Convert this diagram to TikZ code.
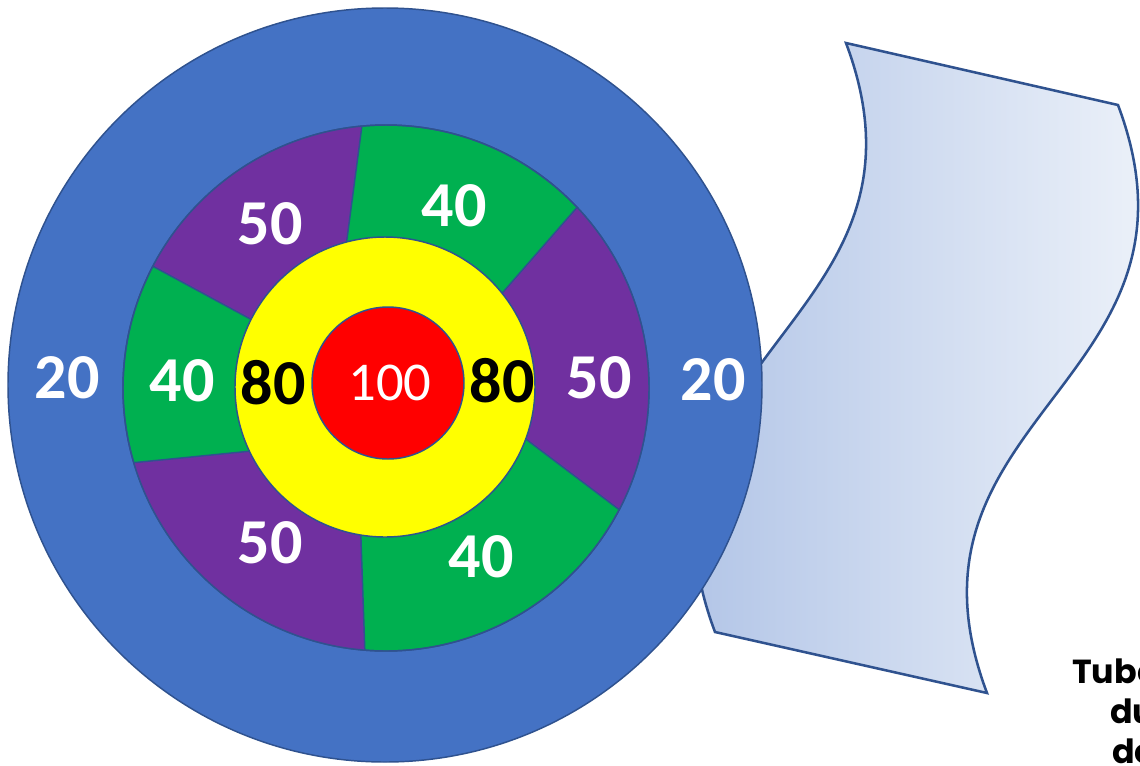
\documentclass[tikz,border=0pt]{standalone}
\usepackage{fontspec}
\setmainfont{Carlito}
\newfontfamily\notefont{Poppins}

\definecolor{ringblue}{HTML}{4472C4}
\definecolor{ringgreen}{HTML}{00B050}
\definecolor{ringpurple}{HTML}{7030A0}
\definecolor{edgeblue}{HTML}{2F528F}
\definecolor{wavedark}{HTML}{A9BEE4}
\definecolor{wavelight}{HTML}{F5F8FC}
\definecolor{goldyellow}{HTML}{FFFF00}

\newcommand*{\ringr}{263}
\newcommand*{\goldr}{150}

\begin{document}
\begin{tikzpicture}
[
	x=0.75pt, y=-0.75pt,
	ring/.style={draw=edgeblue, line width=1.1pt},
	score/.style={white, inner sep=0pt, font=\fontsize{48}{50}\selectfont\bfseries},
	note/.style={black, inner sep=0pt, anchor=base west, font=\notefont\fontsize{25}{27}\selectfont\bfseries}
]
	\useasboundingbox (0,0) rectangle (1140,765);

	% wave
	\shadedraw[left color=wavedark, right color=wavelight, draw=edgeblue, line width=1.9pt, line join=miter]
		(846,43) -- (1118,105) .. controls (1222,382) and (883,416) .. (987,693)
		-- (715,632) .. controls (611,355) and (950,320) .. (846,43) -- cycle;

	% target
	\draw[ring, fill=ringblue] (385,385) circle (377);
	\draw[ring, fill=ringgreen] (386,388) circle (\ringr);
	\begin{scope}
		\clip (386,388) circle (\ringr);
		\draw[ring, fill=ringpurple] (366,95) -- (335,330) -- (302,347) -- (121,249) -- (100,100) -- cycle;
		\draw[ring, fill=ringpurple] (621,157) -- (470,330) -- (490,412) -- (658,539) -- (720,370) -- cycle;
		\draw[ring, fill=ringpurple] (110,465) -- (302,446) -- (359,482) -- (366,684) -- (110,684) -- cycle;
	\end{scope}
	\draw[ring] (386,388) circle (\ringr);
	\draw[ring, fill=goldyellow] (385,387) circle (\goldr);
	\draw[ring, fill=red] (388,383) circle (76);

	% scores
	\node[score] (twentyW) at (67,378) {20};
	\node[score] (twentyE) at (713,380) {20};
	\node[score] (fiftyNW) at (270,224) {50};
	\node[score] (fortyN) at (454,206) {40};
	\node[score] (fortyW) at (182,381) {40};
	\node[score, black] (eightyW) at (273,383) {80};
	\node[score, black] (eightyE) at (502,381) {80};
	\node[white, inner sep=0pt, font=\fontsize{41}{43}\selectfont] (hundred) at (390,383) {100};
	\node[score] (fiftyE) at (599,378) {50};
	\node[score] (fiftySW) at (270,543) {50};
	\node[score] (fortySE) at (481,557) {40};

	% caption
	\node[note] (tube) at (1072,683) {Tube};
	\node[note] (du) at (1110,723) {du};
	\node[note] (de) at (1112,763) {de};

\end{tikzpicture}
\end{document}
